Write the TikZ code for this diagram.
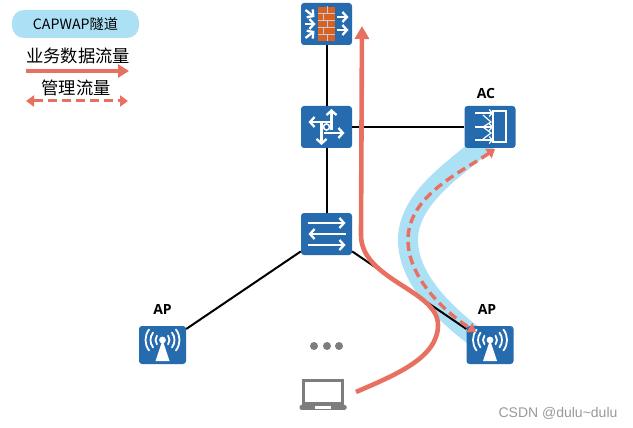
\documentclass[tikz,border=0pt]{standalone}
\usepackage{fontspec}
\usepackage{xcolor}
\usepackage{tikz}
\usetikzlibrary{arrows.meta, positioning, calc}
\setmainfont{Open Sans}
\newfontfamily\cjkfont{Noto Sans CJK SC}
\newfontfamily\markfont{Liberation Sans}
\definecolor{netblue}{RGB}{21, 96, 168}
\definecolor{tunnelblue}{RGB}{172, 224, 245}
\definecolor{flowred}{RGB}{232, 112, 96}
\definecolor{brickred}{RGB}{220, 96, 30}
\definecolor{hostgray}{RGB}{125, 125, 125}

\tikzset{
    device/.style={draw=none, fill=netblue, fill opacity=0.93, rounded corners=3pt, minimum width=51pt, minimum height=42pt, inner sep=0pt},
    apbox/.style={device, minimum width=47pt, minimum height=38pt},
    icon/.style={draw=white, line width=2.3pt, -{Straight Barb[length=4.5pt, width=10pt]}},
    wave/.style={draw=white, line width=1.8pt, line cap=round},
    pics/fwicon/.style={code={
        \fill[brickred] (-8.5,-17) rectangle (8.5,17);
        \foreach \yy in {-10.5,-3.5,3.5,10.5} {\draw[netblue!30, line width=0.7pt] (-8.5,\yy) -- (8.5,\yy);}
        \foreach \yy in {-14,0,14} {\draw[netblue!30, line width=0.7pt] (1,\yy-3.5) -- (1,\yy+3.5);}
        \foreach \yy in {-7,7} {\draw[netblue!30, line width=0.7pt] (-3,\yy-3.5) -- (-3,\yy+3.5);}
        \draw[icon] (-21,-14) -- (-12,-7);
        \draw[icon] (-22,0) -- (-11,0);
        \draw[icon] (-21,14) -- (-12,7);
        \draw[icon] (10,-7) -- (22,-7);
        \draw[icon] (10,6) -- (22,6);
    }},
    pics/routericon/.style={code={
        \draw[icon] (5,3) -- (5,-18);
        \draw[icon] (3,-5) -- (-18,-5);
        \draw[icon] (-3,6) -- (18,6);
        \draw[icon] (-5,-4) -- (-5,18);
        \draw[white, line width=1.6pt, fill=netblue] (0,0) circle (3pt);
    }},
    pics/switchicon/.style={code={
        \draw[icon] (-19,-11) -- (19,-11);
        \draw[icon] (19,0) -- (-18,0);
        \draw[icon] (-19,11) -- (19,11);
    }},
    pics/acicon/.style={code={
        \draw[white, line width=1.6pt] (3,-16) rectangle (16,15);
        \foreach \yy in {-14,0,13} {
            \draw[white, line width=1.2pt, -{Straight Barb[length=3pt, width=7pt]}] (-15,\yy) -- (3,\yy);
        }
        \draw[white, line width=1.2pt] (-7,-12) -- (1,-5) -- (-7,0) -- (1,6) -- (-7,12);
    }},
    pics/apicon/.style={code={
        \fill[white] (0,-5) -- (7,16) -- (-7,16) -- cycle;
        \fill[white] (0,-5) circle (3.4pt);
        \foreach \rr in {7,12,17} {
            \draw[wave] (0,-5) ++(-38:\rr pt) arc[start angle=-38, end angle=38, radius=\rr pt];
            \draw[wave] (0,-5) ++(142:\rr pt) arc[start angle=142, end angle=218, radius=\rr pt];
        }
    }}
}

\begin{document}
\begin{tikzpicture}[
    x=1pt, y=-1pt,
    base/.style={inner sep=0pt, font=\cjkfont\fontsize{17.3pt}{19pt}\selectfont},
    tag/.style={inner sep=0pt, font=\bfseries\fontsize{14pt}{16pt}\selectfont},
    link/.style={draw=black, line width=2pt},
    dataflow/.style={flowred, line width=4.6pt, -{Triangle[length=13pt, width=14pt]}},
    mgmtflow/.style={flowred, line width=3.4pt, dash pattern=on 9pt off 5pt, {Triangle[length=8pt, width=11pt]}-{Triangle[length=8pt, width=11pt]}}
]
    \useasboundingbox (0,0) rectangle (633,428);

    % --- TUNNEL BAND ---
    \coordinate (tunnelac) at (490,138);
    \coordinate (tunnelap) at (490,347);
    \coordinate (tunnelmid) at (408,240);
    \draw[tunnelblue, line width=20pt] (tunnelac) .. controls (462,165) and (408,195) .. (tunnelmid) .. controls (408,282) and (452,322) .. (tunnelap);

    % --- DEVICES ---
    \node[device] (firewall) at (326.5,24) {};
    \node[device] (router) at (326.5,127) {};
    \node[device] (switch) at (326.5,234) {};
    \node[device] (ac) at (490,127) {};
    \node[apbox] (apleft) at (162.5,345) {};
    \node[apbox] (apright) at (490,345) {};

    \node[tag] (aclabel) at (486,93) {AC};
    \node[tag] (apleftlabel) at (162.5,309) {AP};
    \node[tag] (aprightlabel) at (487,309) {AP};

    \draw[link] (firewall) -- (router);
    \draw[link] (router) -- (switch);
    \draw[link] (router) -- (ac);
    \draw[link] (switch) -- (apleft);
    \draw[link] (switch) -- (apright);

    \pic at (firewall) {fwicon};
    \pic at (router) {routericon};
    \pic at (switch) {switchicon};
    \pic at (ac) {acicon};
    \pic at (apleft) {apicon};
    \pic at (apright) {apicon};

    % --- HOST ---
    \node[draw=hostgray, line width=2.2pt, minimum width=39pt, minimum height=23pt, inner sep=0pt] (laptop) at (323,392) {};
    \node[fill=hostgray, rounded corners=1.5pt, minimum width=47pt, minimum height=5pt, inner sep=0pt, below=0pt of laptop] (laptopbase) {};
    \node[fill=white, minimum width=16pt, minimum height=2.5pt, inner sep=0pt] (laptopslot) at (laptopbase) {};
    \foreach \xx/\nn in {314/dotone, 327/dottwo, 339/dotthree} {
        \node[circle, fill=hostgray, minimum size=8pt, inner sep=0pt] (\nn) at (\xx,346) {};
    }

    % --- FLOWS ---
    \coordinate (flowstart) at (356,392);
    \coordinate (flowbend) at (438,325);
    \coordinate (flowtop) at (362,26);
    \draw[dataflow] (flowstart) .. controls (395,375) and (438,358) .. (flowbend) .. controls (438,290) and (361,280) .. (361,235) -- (flowtop);

    \coordinate (mgmtac) at (495,149);
    \coordinate (mgmtap) at (476,332);
    \draw[mgmtflow] (mgmtac) .. controls (462,172) and (408,195) .. (tunnelmid) .. controls (408,278) and (445,312) .. (mgmtap);

    % --- LEGEND ---
    \node[fill=tunnelblue, rounded corners=12pt, minimum width=127pt, minimum height=28pt, inner sep=0pt, font=\cjkfont\fontsize{14.2pt}{16pt}\selectfont] (tunnellegend) at (75.5,24) {CAPWAP隧道};
    \node[base] (datalabel) at (78,56) {业务数据流量};
    \coordinate (datafrom) at (26,71);
    \coordinate (datato) at (129,71);
    \draw[flowred, line width=4.4pt, -{Triangle[length=11pt, width=13pt]}] (datafrom) -- (datato);
    \node[base] (mgmtlabel) at (76,87.5) {管理流量};
    \coordinate (mgmtfrom) at (26,101);
    \coordinate (mgmtto) at (128,101);
    \draw[mgmtflow, line width=3pt] (mgmtfrom) -- (mgmtto);

    % --- WATERMARK ---
    \node[inner sep=0pt, text=black!40, font=\markfont\fontsize{14pt}{16pt}\selectfont] (watermark) at (558,413) {CSDN @dulu\textasciitilde dulu};

\end{tikzpicture}
\end{document}
